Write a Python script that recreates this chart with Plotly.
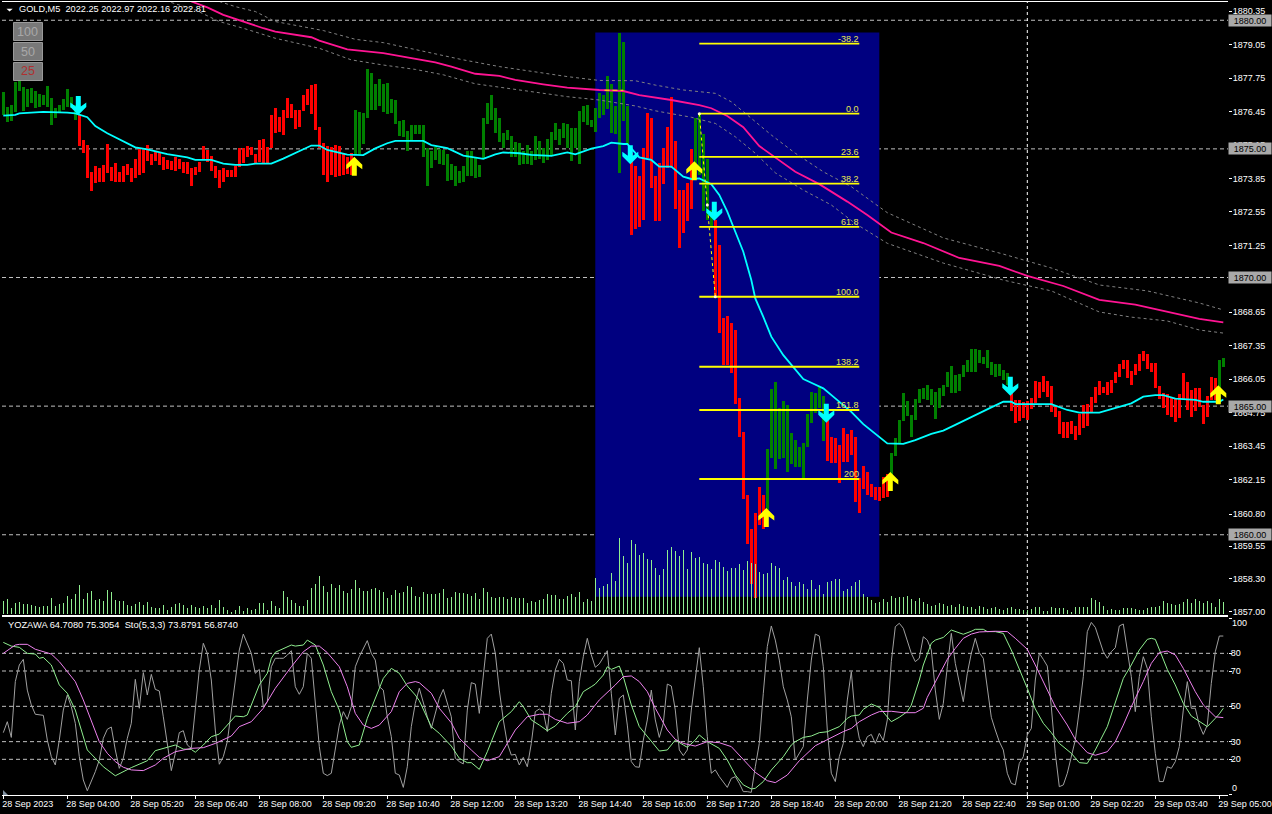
import numpy as np
import plotly.graph_objects as go

W, H = 1272, 814

bar_high = [
1877.20,1876.64,1876.71,1877.61,1877.64,1877.39,1877.32,1877.36,1877.26,1877.14,
1877.10,1877.45,1876.97,1876.58,1876.69,1876.94,1877.32,1877.01,1876.71,1876.32,
1875.35,1875.15,1874.09,1874.34,1874.27,1874.37,1875.19,1874.28,1874.44,1874.09,
1874.34,1874.41,1874.25,1874.60,1875.00,1874.96,1875.15,1874.80,1874.89,1874.85,
1874.70,1874.57,1874.54,1874.67,1874.60,1874.48,1874.50,1874.25,1874.31,1874.48,
1875.11,1874.96,1874.74,1874.34,1874.18,1874.25,1874.18,1874.18,1874.35,1875.02,
1875.02,1875.13,1875.09,1874.80,1875.35,1875.39,1875.09,1876.32,1876.60,1876.23,
1876.51,1876.97,1876.75,1876.51,1876.51,1877.10,1877.32,1877.49,1877.52,1875.87,
1875.22,1875.11,1875.09,1875.15,1875.13,1874.83,1874.70,1874.83,1876.52,1876.43,
1876.39,1878.11,1877.94,1877.53,1877.72,1877.53,1877.58,1876.93,1876.90,1876.09,
1876.13,1875.70,1875.93,1875.93,1875.93,1875.91,1875.03,1874.93,1875.09,1874.99,
1874.96,1874.79,1874.42,1874.34,1874.14,1874.34,1874.92,1874.92,1874.70,1874.38,
1876.19,1876.80,1877.10,1876.58,1876.19,1875.63,1875.74,1875.51,1875.28,1875.22,
1874.92,1875.16,1874.90,1875.51,1875.31,1875.03,1875.39,1875.67,1876.00,1875.78,
1876.00,1875.97,1875.80,1875.80,1876.49,1876.65,1876.71,1876.13,1876.58,1877.16,
1877.09,1877.83,1877.52,1876.67,1879.49,1879.14,1876.67,1874.83,1874.35,1873.96,
1875.05,1876.41,1876.21,1873.96,1874.44,1875.02,1875.86,1877.00,1875.32,1873.40,
1873.40,1873.69,1874.98,1876.21,1876.34,1875.58,1874.61,1872.62,1872.23,1871.26,
1868.44,1868.50,1868.24,1867.96,1865.33,1864.00,1861.54,1860.22,1860.85,1861.86,
1861.54,1863.33,1865.66,1865.93,1864.91,1865.20,1865.04,1863.94,1863.68,1863.42,
1863.56,1864.69,1865.55,1865.52,1865.75,1865.40,1864.46,1863.81,1863.77,1863.48,
1864.15,1863.91,1864.07,1863.81,1862.19,1862.67,1862.44,1861.99,1861.86,1861.86,
1862.25,1862.36,1863.16,1863.75,1864.46,1865.50,1865.20,1864.66,1865.28,1865.67,
1865.69,1865.82,1865.67,1865.56,1865.72,1865.82,1866.34,1866.56,1866.21,1866.24,
1866.60,1866.79,1867.22,1867.22,1867.18,1866.90,1867.18,1866.70,1866.64,1866.64,
1866.40,1866.30,1865.76,1865.24,1865.24,1865.17,1865.21,1865.30,1865.98,1865.95,
1866.17,1865.98,1865.78,1864.98,1864.81,1864.40,1864.37,1864.42,1864.23,1864.69,
1865.03,1865.08,1865.37,1865.76,1865.98,1865.76,1865.95,1866.02,1866.34,1866.64,
1866.79,1866.79,1866.38,1866.64,1867.03,1867.14,1867.03,1866.66,1866.69,1865.78,
1865.50,1865.46,1865.37,1865.30,1865.47,1866.28,1865.93,1865.63,1865.69,1865.69,
1865.04,1865.39,1866.12,1866.08,1866.79,1866.86]

bar_low = [
1876.32,1876.06,1876.10,1876.45,1877.26,1876.49,1876.64,1876.77,1876.58,1876.62,
1876.71,1876.62,1875.93,1876.19,1876.38,1876.51,1876.64,1876.58,1876.12,1875.13,
1874.85,1873.88,1873.36,1873.66,1873.73,1873.73,1874.05,1873.75,1873.73,1873.73,
1873.73,1873.99,1873.73,1873.86,1873.99,1874.08,1874.54,1874.37,1874.53,1874.37,
1874.18,1874.21,1874.18,1874.15,1874.21,1874.08,1874.02,1873.56,1873.99,1874.10,
1874.57,1874.50,1874.14,1873.86,1873.49,1873.73,1873.90,1873.92,1873.92,1874.31,
1874.44,1874.67,1874.76,1874.44,1874.48,1874.44,1874.44,1875.02,1875.63,1875.67,
1875.54,1876.19,1876.19,1875.76,1875.87,1876.47,1876.71,1876.36,1875.74,1875.02,
1873.99,1873.73,1873.99,1873.92,1873.95,1873.99,1874.02,1873.99,1874.77,1874.79,
1875.19,1876.22,1876.52,1876.52,1876.65,1876.45,1876.36,1876.39,1875.97,1875.51,
1875.45,1874.90,1875.35,1875.58,1875.58,1874.70,1873.54,1874.24,1874.57,1874.42,
1874.38,1873.77,1873.79,1873.57,1873.66,1873.73,1873.95,1873.95,1873.86,1873.89,
1874.64,1875.97,1876.13,1875.63,1875.25,1875.05,1875.35,1874.70,1874.70,1874.38,
1874.42,1874.42,1874.38,1874.55,1874.60,1874.44,1874.57,1874.77,1875.35,1875.16,
1875.44,1875.05,1874.53,1875.03,1874.42,1876.06,1875.93,1875.84,1875.67,1876.19,
1876.32,1876.55,1875.63,1875.58,1874.05,1876.10,1875.15,1871.65,1871.87,1871.97,
1872.23,1874.63,1873.49,1872.20,1872.20,1873.63,1874.24,1874.24,1872.66,1871.16,
1871.72,1872.20,1872.66,1874.05,1873.98,1872.60,1872.23,1871.97,1869.25,1867.85,
1866.60,1866.60,1866.30,1865.10,1863.81,1861.39,1859.64,1858.08,1857.55,1860.37,
1860.22,1860.96,1862.99,1862.55,1862.94,1862.99,1862.44,1862.75,1862.64,1862.64,
1862.19,1863.42,1864.35,1864.72,1864.91,1863.64,1862.86,1862.80,1862.80,1862.02,
1862.84,1862.84,1863.10,1861.28,1860.85,1861.77,1861.54,1861.48,1861.35,1861.31,
1861.42,1861.48,1862.25,1863.06,1863.55,1864.43,1864.62,1863.81,1864.46,1865.13,
1865.28,1865.24,1865.04,1864.50,1864.94,1865.39,1865.73,1865.52,1865.52,1865.59,
1866.15,1866.34,1866.34,1866.34,1866.66,1866.64,1866.47,1866.21,1866.15,1866.17,
1866.02,1865.82,1864.81,1864.36,1864.42,1864.55,1864.46,1864.89,1865.11,1865.30,
1865.54,1865.37,1864.76,1864.59,1863.92,1863.77,1863.77,1863.92,1863.68,1863.88,
1864.14,1864.24,1864.76,1865.13,1865.43,1865.50,1865.43,1865.52,1865.89,1866.15,
1866.43,1866.08,1865.82,1866.21,1866.38,1866.77,1866.43,1866.34,1865.72,1865.28,
1864.91,1864.66,1864.59,1864.40,1864.55,1865.26,1864.85,1864.56,1864.82,1864.98,
1864.31,1864.56,1865.24,1865.24,1865.11,1866.53]

volume = [
40,45,18,33,36,30,30,28,24,21,24,24,48,24,30,33,54,45,60,87,
45,63,69,42,45,39,72,66,42,39,39,27,24,30,36,27,36,21,18,18,
27,12,21,30,33,27,18,27,21,18,24,18,27,18,42,21,12,6,12,24,
9,18,12,15,33,33,12,39,24,18,69,51,42,33,24,24,42,78,90,114,
84,66,90,78,87,69,63,75,102,78,69,69,75,78,72,66,48,57,72,63,
66,84,81,54,51,66,60,60,60,63,75,48,51,66,63,63,60,54,63,45,
78,66,51,48,51,51,45,51,48,48,48,33,39,36,42,45,60,57,57,45,
45,54,60,51,66,36,45,39,108,78,83,90,123,98,228,175,153,223,211,178,
183,165,163,138,118,135,193,201,190,175,193,135,186,168,170,153,150,135,163,156,
141,128,138,138,150,133,160,153,150,127,121,123,153,145,138,103,111,95,85,96,
91,76,103,76,88,61,95,100,106,106,70,76,85,95,103,61,51,43,33,35,
46,35,55,48,51,51,55,45,40,48,35,30,25,28,33,30,25,28,20,30,
25,20,22,15,25,20,15,18,22,15,12,17,20,16,14,12,12,16,20,20,
9,10,20,17,17,17,12,6,20,20,22,22,47,42,35,24,12,15,12,12,
17,17,17,14,12,12,19,22,22,24,39,32,30,28,30,37,44,34,44,38,
34,39,32,20,44,37]

down_signals = [19, 157, 178, 206, 252]
down_prices = [1876.32, 1874.40, 1872.21, 1864.35, 1865.40]
up_signals = [88, 173, 191, 222, 304]
up_prices = [1874.69, 1874.52, 1861.04, 1862.44, 1865.81]

ma_fast_x = [0,3,4,8,10,16,18,21,23,26,31,33,36,41,46,48,52,55,58,61,63,67,70,73,77,79,81,86,90,93,96,98,105,107,111,115,120,123,125,129,132,137,141,143,147,150,152,155,156,159,162,164,167,170,172,174,177,179,181,183,185,187,188,190,192,195,197,200,202,205,208,212,215,218,221,225,228,232,235,238,243,247,250,252,253,262,266,269,274,278,282,285,288,290,293,298,300,304,305]
ma_fast = [1876.29,1876.32,1876.38,1876.42,1876.44,1876.41,1876.38,1876.23,1875.89,1875.61,1875.24,1875.06,1874.98,1874.80,1874.67,1874.57,1874.57,1874.43,1874.38,1874.38,1874.43,1874.43,1874.62,1874.83,1875.13,1875.13,1874.96,1874.78,1874.76,1875.02,1875.22,1875.31,1875.31,1875.15,1875.03,1874.74,1874.61,1874.79,1874.86,1874.83,1874.77,1874.73,1874.86,1874.79,1875.01,1875.11,1875.24,1875.19,1875.19,1874.67,1874.57,1874.31,1874.31,1873.92,1873.83,1873.85,1873.63,1873.21,1872.56,1871.78,1871.00,1869.90,1869.19,1868.47,1867.70,1866.98,1866.60,1866.05,1865.91,1865.69,1865.30,1864.78,1864.30,1863.91,1863.55,1863.53,1863.68,1863.92,1864.05,1864.27,1864.63,1864.95,1865.17,1865.17,1865.08,1865.08,1864.85,1864.75,1864.75,1864.94,1865.11,1865.37,1865.43,1865.43,1865.29,1865.24,1865.17,1865.17,1865.26]

ma_slow_x = [47,51,55,59,65,68,77,79,86,95,104,108,112,118,124,128,135,141,149,155,159,167,174,177,181,185,189,193,198,204,211,216,222,230,239,249,256,265,274,283,291,299,305]
ma_slow = [1880.73,1880.50,1880.21,1879.99,1879.69,1879.56,1879.34,1879.21,1878.87,1878.72,1878.46,1878.36,1878.20,1877.92,1877.84,1877.68,1877.51,1877.38,1877.29,1877.25,1877.09,1876.90,1876.70,1876.58,1876.28,1875.84,1875.11,1874.67,1874.11,1873.63,1872.95,1872.43,1871.75,1871.34,1870.76,1870.45,1870.06,1869.67,1869.13,1868.95,1868.66,1868.39,1868.26]

band_up_x = [54,58,63,68,80,88,95,103,115,124,132,141,149,158,163,170,178,182,186,192,198,205,212,221,235,250,262,274,286,299,305]
band_up = [1880.73,1880.53,1880.34,1879.95,1879.60,1879.26,1879.13,1878.87,1878.46,1878.20,1878.01,1877.81,1877.66,1877.65,1877.48,1877.29,1877.16,1876.83,1876.32,1875.54,1874.83,1874.11,1873.53,1872.52,1871.54,1870.91,1870.37,1869.71,1869.48,1869.01,1868.74]
band_dn_x = [42,48,54,60,68,79,87,95,103,110,118,128,135,141,149,158,163,172,178,183,188,193,200,207,213,221,235,250,262,274,282,291,299,305]
band_dn = [1880.69,1880.40,1879.95,1879.69,1879.30,1878.91,1878.46,1878.26,1878.09,1877.88,1877.53,1877.32,1877.16,1877.03,1876.90,1876.67,1876.48,1876.23,1875.99,1875.47,1874.83,1874.07,1873.40,1872.82,1872.10,1871.33,1870.56,1869.90,1869.48,1868.66,1868.46,1868.31,1867.96,1867.84]

fib_levels = ["-38.2","0.0","23.6","38.2","61.8","100.0","138.2","161.8","200"]
fib_prices = [1879.09,1876.37,1874.69,1873.65,1871.97,1869.25,1866.53,1864.85,1862.17]
fib_start, fib_end = 174, 214
fib_trend_x = [174, 176, 178]
fib_trend_y = [1876.37, 1872.82, 1869.25]
stub_x = [150.3, 155]
stub_y = [1877.28, 1877.28]
box_x = [148, 219]
box_y = [1857.59, 1879.52]

yozawa = [
35.1,41.3,32.4,64.0,73.4,76.6,59.2,50.8,45.5,45.1,44.9,30.9,21.5,16.8,30.9,47.9,56.4,49.8,40.4,21.5,
8.3,2.2,7.3,13.0,19.6,31.9,37.0,38.3,25.3,14.9,20.6,31.9,40.4,65.3,48.9,69.1,56.4,68.1,59.6,58.7,
44.1,29.0,13.6,23.4,35.1,36.2,28.1,26.2,47.9,70.6,85.7,80.0,64.9,36.6,17.2,21.5,30.0,47.9,64.0,81.9,
90.9,85.7,80.0,68.7,70.9,49.8,52.6,72.4,77.2,77.2,77.2,79.0,81.5,61.1,56.8,61.1,80.0,77.2,52.6,27.2,
12.1,10.8,12.1,25.3,39.4,47.0,42.6,49.8,72.4,78.1,82.8,87.2,80.0,76.2,61.1,59.2,44.1,32.8,12.1,11.1,
4.1,15.8,38.5,51.7,60.2,51.7,44.1,37.5,46.0,54.5,59.6,51.7,44.1,20.6,18.7,17.4,47.9,63.4,62.6,46.0,
68.7,88.5,90.9,80.0,59.2,42.3,29.0,22.4,22.8,16.8,21.1,15.8,29.0,47.0,48.5,47.0,35.7,57.4,70.6,76.6,
74.3,64.9,64.5,36.6,64.0,78.1,88.5,79.1,72.1,74.0,77.7,81.5,57.4,33.8,54.5,56.4,39.4,18.7,15.8,15.5,
30.9,42.3,59.2,42.3,32.4,40.4,62.6,61.5,47.9,25.3,22.1,25.3,47.9,66.8,83.2,61.1,32.8,12.1,14.0,10.2,
7.4,4.1,9.2,10.2,6.4,1.7,1.7,1.3,15.8,29.0,57.4,83.8,95.5,87.5,76.2,61.1,53.6,44.1,19.6,23.4,
27.2,53.6,76.2,90.9,89.8,72.4,36.6,12.1,7.4,21.5,29.0,53.6,69.6,44.1,31.9,27.2,32.8,34.1,29.0,34.7,
30.6,42.3,75.3,95.1,97.0,94.2,86.6,80.0,75.3,77.2,89.4,87.5,81.9,59.2,42.6,51.7,72.4,91.3,74.3,64.0,
52.6,68.7,80.0,88.5,80.4,77.2,59.2,43.8,36.6,30.0,25.3,12.1,6.4,5.5,17.7,21.5,33.8,37.5,64.9,80.0,
76.6,72.8,49.8,23.4,4.5,5.5,12.1,21.5,30.9,47.9,66.8,92.3,97.5,94.7,87.5,80.9,77.2,80.9,83.2,95.5,
96.6,80.9,66.8,47.0,66.8,78.1,71.5,44.1,23.4,7.4,7.4,15.8,14.9,18.7,27.2,47.9,64.0,48.9,48.9,39.4,
34.1,39.4,63.0,80.9,89.8,89.8]

sto_main_x = [0,2,4,6,8,9,10,12,14,16,18,19,20,21,23,25,28,32,36,38,41,43,45,47,48,50,52,54,56,58,60,61,62,64,66,67,68,72,73,75,76,78,80,82,84,85,86,87,89,91,93,95,97,99,101,103,104,107,109,112,114,116,117,119,121,124,127,129,130,132,134,136,138,141,143,145,147,148,150,151,152,154,155,157,159,161,162,164,166,168,170,171,173,174,176,179,181,183,185,187,188,190,192,195,197,198,200,202,204,206,209,211,212,214,215,217,219,222,224,226,227,229,230,232,233,235,237,238,240,242,243,245,246,248,250,252,254,256,258,260,262,264,267,269,271,273,276,278,280,282,284,286,287,288,289,291,293,295,297,299,301,303,304,305]
sto_main = [86.2,84.1,83.4,80.0,79.6,77.2,77.7,73.4,62.1,57.4,47.9,40.4,31.9,25.3,20.6,15.8,10.7,15.3,19.2,24.9,26.8,28.1,25.8,25.6,24.0,28.1,32.8,34.3,39.4,44.5,44.1,45.1,50.7,62.1,68.7,77.2,80.6,84.7,84.1,84.7,87.5,84.7,73.4,58.3,47.9,38.5,30.0,26.8,28.1,43.2,54.5,65.8,71.5,68.7,61.5,56.4,53.2,38.5,34.7,27.5,20.6,18.1,18.1,14.3,24.3,41.3,47.0,52.6,49.8,42.3,39.4,36.2,38.9,46.0,49.8,58.3,61.1,62.6,67.7,72.4,70.9,72.8,66.8,50.8,38.5,33.2,30.0,24.7,25.3,30.9,28.1,26.8,30.9,33.8,30.0,26.2,19.6,11.1,5.5,3.2,3.6,7.4,13.9,21.5,28.1,30.0,32.4,33.2,35.1,35.6,38.5,43.2,44.5,45.1,48.3,51.3,49.4,41.3,43.8,47.0,50.7,64.9,73.4,85.7,87.5,89.0,93.2,92.3,90.8,92.5,93.6,93.6,92.3,92.3,91.3,81.9,71.5,60.2,48.5,40.4,35.1,29.0,23.4,18.1,17.7,25.3,38.5,52.6,65.8,73.4,81.9,87.9,88.5,87.9,81.9,70.9,62.1,51.7,44.5,41.3,38.5,43.2,45.7,48.9]

sto_signal_x = [0,3,4,6,8,12,14,16,18,20,22,24,26,28,30,32,35,38,40,43,47,50,53,57,59,62,65,68,72,75,77,79,81,84,86,88,90,92,94,97,99,101,103,104,107,109,112,114,117,119,121,124,126,128,131,134,136,138,141,144,146,149,153,155,157,159,161,163,166,168,170,173,176,179,182,185,188,191,193,196,199,203,207,209,210,212,214,217,219,222,225,228,230,231,233,236,238,240,242,244,248,251,253,256,258,261,263,266,268,271,273,276,278,280,282,285,287,289,291,293,295,298,300,303,305]
sto_signal = [80.0,84.7,85.1,85.1,82.3,79.6,75.3,69.6,64.0,53.6,41.3,30.0,23.4,18.7,15.5,14.0,13.6,16.8,20.6,24.3,26.2,26.6,29.0,33.2,38.5,41.3,48.9,60.2,72.4,80.9,84.1,84.1,80.4,72.4,61.1,46.0,39.4,37.5,39.4,47.0,58.3,63.0,64.0,63.4,57.4,48.9,40.7,31.9,25.3,21.1,19.2,21.5,29.0,36.6,44.1,45.5,45.5,42.6,40.4,41.3,45.1,53.6,62.1,66.8,67.2,64.0,58.3,48.9,36.6,31.3,29.0,27.5,30.0,29.4,27.2,19.6,12.6,7.9,6.8,11.1,19.2,27.7,32.4,34.3,35.7,37.5,41.3,45.1,47.0,47.2,46.4,46.4,48.9,55.1,64.0,76.6,82.8,88.5,90.9,92.1,92.5,92.3,88.5,82.3,73.4,59.2,49.8,39.4,31.3,23.8,22.3,24.3,30.0,39.4,49.8,64.0,74.3,80.4,81.3,79.1,71.5,58.3,50.8,44.1,43.6]

price_tick_vals = [1880.35,1879.05,1877.75,1876.45,1875.15,1873.85,1872.55,1871.25,1869.95,1868.65,1867.35,1866.05,1864.75,1863.45,1862.15,1860.80,1859.55,1858.30,1857.00]
price_lines = [1880.00,1875.00,1870.00,1865.00,1860.00]
osc_lines = [80,70,50,30,20]
time_tick_idx = list(range(0, 305, 16))
time_labels = ["28 Sep 2023","28 Sep 04:00","28 Sep 05:20","28 Sep 06:40","28 Sep 08:00","28 Sep 09:20","28 Sep 10:40","28 Sep 12:00","28 Sep 13:20","28 Sep 14:40","28 Sep 16:00","28 Sep 17:20","28 Sep 18:40","28 Sep 20:00","28 Sep 21:20","28 Sep 22:40","29 Sep 01:00","29 Sep 02:20","29 Sep 03:40","29 Sep 05:00"]
separator_idx = 256
title_text = "GOLD,M5\u00a0\u00a02022.25 2022.97 2022.16 2022.81"
osc_text = "YOZAWA 64.7080 75.3054\u00a0\u00a0Sto(5,3,3) 73.8791 56.8740"
button_labels = ["100", "50", "25"]

FONT = "Liberation Sans"
GREEN, RED = "#008000", "#FF0000"
idx = np.arange(306)
hi, lo = np.array(bar_high), np.array(bar_low)

flips = dict([(i, RED) for i in down_signals] + [(i, GREEN) for i in up_signals])
colors = []
current = GREEN
for i in idx:
    current = flips.get(int(i), current)
    colors.append(current)

fx = lambda px: px / W
fy = lambda py: 1 - py / H

fig = go.Figure()
fig.add_trace(go.Bar(x=idx, base=lo, y=hi - lo, width=0.75, marker=dict(color=colors, line=dict(width=0)), xaxis="x", yaxis="y"))
for xs, ys in ((band_up_x, band_up), (band_dn_x, band_dn)):
    fig.add_trace(go.Scatter(x=xs, y=ys, mode="lines", line=dict(color="#808080", width=1, dash="3px,3px"), xaxis="x", yaxis="y"))
fig.add_trace(go.Scatter(x=ma_slow_x, y=ma_slow, mode="lines", line=dict(color="#FF1493", width=1.8), xaxis="x", yaxis="y"))
fig.add_trace(go.Scatter(x=ma_fast_x, y=ma_fast, mode="lines", line=dict(color="#00FFFF", width=1.8), xaxis="x", yaxis="y"))
for p in fib_prices:
    fig.add_trace(go.Scatter(x=[fib_start, fib_end], y=[p, p], mode="lines", line=dict(color="#FFFF00", width=1.9), xaxis="x", yaxis="y"))
fig.add_trace(go.Scatter(x=fib_trend_x, y=fib_trend_y, mode="lines+markers", line=dict(color="#FFFF00", width=1, dash="3px,3px"),
                         marker=dict(size=3, color="#FFFFD0"), xaxis="x", yaxis="y"))
fig.add_trace(go.Scatter(x=stub_x, y=stub_y, mode="lines", line=dict(color="#FFFF00", width=1, dash="5px,3px"), xaxis="x", yaxis="y"))
fig.add_trace(go.Bar(x=idx, y=volume, width=0.25, marker=dict(color="#90EE90", line=dict(width=0)), xaxis="x", yaxis="y3"))
fig.add_trace(go.Scatter(x=idx, y=yozawa, mode="lines", line=dict(color="#A0A0A0", width=1), xaxis="x2", yaxis="y2"))
fig.add_trace(go.Scatter(x=sto_main_x, y=sto_main, mode="lines", line=dict(color="#90EE90", width=1), xaxis="x2", yaxis="y2"))
fig.add_trace(go.Scatter(x=sto_signal_x, y=sto_signal, mode="lines", line=dict(color="#EE82EE", width=1), xaxis="x2", yaxis="y2"))

shapes = [dict(type="rect", xref="x", yref="y", x0=box_x[0], x1=box_x[1], y0=box_y[0], y1=box_y[1],
               fillcolor="#000080", line=dict(width=0), layer="below")]
for p in price_lines:
    shapes.append(dict(type="line", xref="x domain", yref="y", x0=0, x1=1, y0=p, y1=p, layer="below",
                       line=dict(color="#C0C0C0", width=1, dash="4px,3px")))
for v in osc_lines:
    shapes.append(dict(type="line", xref="x2 domain", yref="y2", x0=0, x1=1, y0=v, y1=v, layer="below",
                       line=dict(color="#C0C0C0", width=1, dash="4px,3px")))
shapes.append(dict(type="line", xref="x", yref="paper", x0=separator_idx, x1=separator_idx, y0=fy(795), y1=fy(2),
                   layer="below", line=dict(color="#FFFFFF", width=1, dash="3px,3px")))

UP = "M -1,0 L 7,-8 L 7,-12.5 L 1.5,-8.5 L 1.5,-19 L -3.5,-19 L -3.5,-8.5 L -9,-12.5 L -9,-8 Z"
DOWN = "M -1,0 L 7,8 L 7,12.5 L 1.5,8.5 L 1.5,19 L -3.5,19 L -3.5,8.5 L -9,12.5 L -9,8 Z"
for i, p in zip(up_signals, up_prices):
    shapes.append(dict(type="path", xref="x", yref="y", xsizemode="pixel", ysizemode="pixel", xanchor=i, yanchor=p,
                       path=UP, fillcolor="#FFFF00", line=dict(width=0), layer="above"))
for i, p in zip(down_signals, down_prices):
    shapes.append(dict(type="path", xref="x", yref="y", xsizemode="pixel", ysizemode="pixel", xanchor=i, yanchor=p,
                       path=DOWN, fillcolor="#00FFFF", line=dict(width=0), layer="above"))

shapes.append(dict(type="path", xref="paper", yref="paper", layer="above", fillcolor="#FFFFFF", line=dict(width=0),
                   path=f"M {fx(6.5)},{fy(8.7)} L {fx(12.7)},{fy(8.7)} L {fx(9.6)},{fy(11.6)} Z"))
shapes.append(dict(type="path", xref="paper", yref="paper", layer="above", fillcolor="#8090A0", line=dict(width=0),
                   path=f"M {fx(3)},{fy(790)} L {fx(8)},{fy(795)} L {fx(3)},{fy(795)} Z"))
annotations = []
for k, label in enumerate(button_labels):
    top = 22 + 20 * k
    shapes.append(dict(type="rect", xref="paper", yref="paper", x0=fx(13.5), x1=fx(42.5), y0=fy(top + 18.5), y1=fy(top + 0.5),
                       fillcolor="#787878", line=dict(color="#9A9A9A", width=1), layer="above"))
    annotations.append(dict(xref="paper", yref="paper", x=fx(28), y=fy(top + 9.5), xanchor="center", yanchor="middle", text=label, showarrow=False,
                            font=dict(family=FONT, size=12.5, color="#B03030" if label == "25" else "#A8A8A8")))

annotations.append(dict(xref="paper", yref="paper", x=fx(16.5), y=fy(9.5), xanchor="left", yanchor="middle", text=title_text,
                        showarrow=False, font=dict(family=FONT, size=9.2, color="#FFFFFF")))
annotations.append(dict(xref="paper", yref="paper", x=fx(5.5), y=fy(625), xanchor="left", yanchor="middle", text=osc_text,
                        showarrow=False, font=dict(family=FONT, size=9.3, color="#FFFFFF")))
for label, p in zip(fib_levels, fib_prices):
    annotations.append(dict(xref="x", yref="y", x=fib_end, y=p, xanchor="right", yanchor="bottom", yshift=-1, xshift=1, text=label,
                            showarrow=False, borderpad=0, font=dict(family=FONT, size=9, color="#E8E850")))
for p in price_lines:
    annotations.append(dict(xref="paper", yref="y", x=fx(1249.5), y=p, xanchor="center", yanchor="middle", text=f"{p:.2f}", showarrow=False, bgcolor="#A9A9A9",
                            width=41, height=10, borderpad=0.5, font=dict(family=FONT, size=9, color="#000000")))
for label, py in (("100", 623), ("0", 788)):
    annotations.append(dict(xref="paper", yref="paper", x=fx(1229.5), y=fy(py), xanchor="left", yanchor="middle", text=label, showarrow=False,
                            font=dict(family=FONT, size=9, color="#FFFFFF")))

xdom = [fx(2), fx(1228)]
xrange_ = [-0.325, 306.175]
tickfont = dict(family=FONT, size=9, color="#FFFFFF")
fig.update_layout(
    width=W, height=H, margin=dict(l=0, r=0, t=0, b=0, pad=0),
    paper_bgcolor="#000000", plot_bgcolor="rgba(0,0,0,0)",
    showlegend=False, barmode="overlay", bargap=0, hovermode=False,
    font=dict(family=FONT, color="#FFFFFF"),
    xaxis=dict(domain=xdom, range=xrange_, anchor="y", automargin=False, showgrid=False, zeroline=False, showticklabels=False, ticks="",
               showline=True, linecolor="#FFFFFF", linewidth=1, mirror=True),
    yaxis=dict(domain=[fy(614.5), fy(2)], range=[1856.90, 1880.71], side="right", anchor="x", automargin=False, showgrid=False, zeroline=False,
               tickmode="array", tickvals=price_tick_vals, ticktext=[f"{v:.2f}" for v in price_tick_vals],
               ticks="outside", ticklen=3, tickcolor="#FFFFFF", tickfont=tickfont, ticklabelstandoff=-1),
    yaxis3=dict(domain=[fy(614.5), fy(2)], range=[-1.5, 1836], overlaying="y", anchor="x", side="left", visible=False, automargin=False),
    xaxis2=dict(domain=xdom, range=xrange_, anchor="y2", automargin=False, showgrid=False, zeroline=False,
                tickmode="array", tickvals=time_tick_idx, ticktext=time_labels, ticks="outside", ticklen=3, tickcolor="#FFFFFF",
                tickfont=tickfont, tickangle=0, ticklabelposition="outside right", ticklabeloverflow="allow", ticklabelshift=-2,
                showline=True, linecolor="#FFFFFF", linewidth=1, mirror=True),
    yaxis2=dict(domain=[fy(795), fy(617)], range=[-0.2, 100.57], side="right", anchor="x2", automargin=False, showgrid=False, zeroline=False,
                tickmode="array", tickvals=[0, 20, 30, 50, 70, 80, 100], ticktext=["", "20", "30", "50", "70", "80", ""],
                ticks="outside", ticklen=3, tickcolor="#FFFFFF", tickfont=tickfont, ticklabelstandoff=-3),
    shapes=shapes, annotations=annotations,
)

fig.write_html("out.html", config=dict(displayModeBar=False, staticPlot=True),
               post_script="document.body.style.margin='0';document.body.style.background='#000';document.documentElement.style.overflow='hidden';")
